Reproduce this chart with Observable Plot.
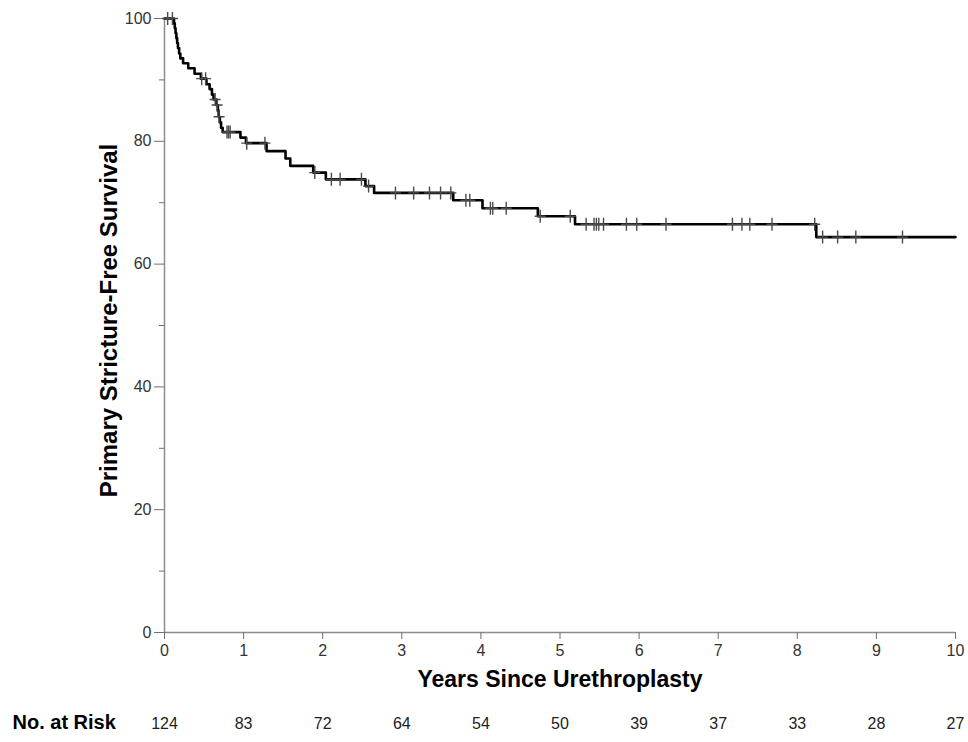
<!DOCTYPE html>
<html>
<head>
<meta charset="utf-8">
<script src="https://cdn.jsdelivr.net/npm/d3@7"></script>
<script src="https://cdn.jsdelivr.net/npm/@observablehq/plot@0.6"></script>
<style>
  body { margin: 0; background: #fff; }
  #chart svg { display: block; }
</style>
</head>
<body>
<div id="chart"></div>
<script>
// Kaplan-Meier step data (years, % survival)
const eventTimes = [0, 0.12, 0.13, 0.14, 0.15, 0.16, 0.17, 0.185, 0.20, 0.235, 0.30, 0.38, 0.46, 0.53, 0.57, 0.60, 0.62, 0.655, 0.675, 0.685, 0.70, 0.715, 0.735, 0.96, 1.03, 1.29, 1.53, 1.59, 1.88, 2.04, 2.54, 2.65, 3.65, 4.02, 4.72, 5.19, 8.24];
const survival   = [100, 99.2, 98.4, 97.6, 96.8, 96.0, 95.2, 94.3, 93.5, 92.7, 91.9, 91.0, 90.2, 89.3, 88.5, 87.6, 86.8, 85.9, 85.0, 84.0, 83.1, 82.2, 81.5, 80.6, 79.7, 78.4, 77.2, 76.0, 74.9, 73.8, 72.7, 71.6, 70.4, 69.1, 67.8, 66.5, 64.4];
const followUpEnd = 10;

// Censored observations (years)
const censorTimes = [0.04, 0.10, 0.47, 0.52, 0.64, 0.665, 0.69, 0.79, 0.81, 0.83, 1.04, 1.27, 1.90, 2.11, 2.22, 2.49, 2.58, 2.92, 3.15, 3.35, 3.49, 3.62, 3.81, 3.86, 4.12, 4.15, 4.32, 4.75, 5.13, 5.33, 5.43, 5.46, 5.49, 5.55, 5.84, 5.97, 6.34, 7.18, 7.30, 7.40, 7.68, 8.22, 8.32, 8.51, 8.74, 9.33];

// Axis ticks and number at risk
const xTicks = [0, 1, 2, 3, 4, 5, 6, 7, 8, 9, 10];
const atRisk = [124, 83, 72, 64, 54, 50, 39, 37, 33, 28, 27];
const yMajor = [0, 20, 40, 60, 80, 100];
const yMinor = [10, 30, 50, 70, 90];

const yTitle = "Primary Stricture-Free Survival";
const xTitle = "Years Since Urethroplasty";
const riskTitle = "No. at Risk";

// Build tables
const steps = eventTimes.map((t, i) => ({t, s: survival[i]}));
steps.push({t: followUpEnd, s: survival[survival.length - 1]});
function survivalAt(t) {
  let s = survival[0];
  for (let i = 0; i < eventTimes.length; i++) if (eventTimes[i] <= t) s = survival[i];
  return s;
}
const censors = censorTimes.map(t => ({t, s: survivalAt(t)}));
const riskRows = xTicks.map((t, i) => ({t, n: atRisk[i]}));

// thin "+" censor symbol
const thinPlus = {
  draw(ctx, size) {
    const r = Math.sqrt(size / Math.PI);
    ctx.moveTo(-r * 0.85, 0); ctx.lineTo(r * 0.85, 0);
    ctx.moveTo(0, -r); ctx.lineTo(0, r);
  }
};

const font = "'Liberation Sans', Arial, Helvetica, sans-serif";

const chart = Plot.plot({
  width: 968,
  height: 742,
  marginTop: 18,
  marginBottom: 110,
  marginLeft: 164,
  marginRight: 13,
  style: {fontFamily: font, background: "#fff", overflow: "visible"},
  x: {domain: [0, 10]},
  y: {domain: [0, 100]},
  marks: [
    // axis lines
    Plot.ruleX([0], {stroke: "#8c8c8c", strokeWidth: 1.5}),
    Plot.ruleY([0], {stroke: "#8c8c8c", strokeWidth: 1.5}),
    // axes
    Plot.axisX({ticks: xTicks, tickSize: 7, tickPadding: 5, fontSize: 16, stroke: "#6f6f6f", fill: "#333", label: null, tickFormat: d3.format("d")}),
    Plot.axisY({ticks: yMajor, tickSize: 10, tickPadding: 3, fontSize: 16, stroke: "#6f6f6f", fill: "#333", label: null, tickFormat: d3.format("d")}),
    Plot.axisY({ticks: yMinor, tickSize: 5, tickFormat: () => "", stroke: "#6f6f6f", label: null}),
    // KM curve
    Plot.line(steps, {x: "t", y: "s", curve: "step-after", stroke: "#000", strokeWidth: 2.6}),
    // censor marks
    Plot.dot(censors, {x: "t", y: "s", symbol: thinPlus, r: 6.5, stroke: "#4a4a4a", strokeWidth: 1.4, fill: "none"}),
    // titles
    Plot.text([yTitle], {frameAnchor: "left", textAnchor: "middle", rotate: -90, dx: -55, dy: -5, fontSize: 24, fontWeight: "bold", fill: "#000"}),
    Plot.text([xTitle], {frameAnchor: "bottom", textAnchor: "middle", dy: 54, fontSize: 23, fontWeight: "bold", fill: "#000"}),
    // number at risk
    Plot.text([riskTitle], {frameAnchor: "bottom-left", textAnchor: "start", dx: -152, dy: 96, fontSize: 20, fontWeight: "bold", fill: "#000"}),
    Plot.text(riskRows, {x: "t", text: "n", frameAnchor: "bottom", dy: 96, fontSize: 16, fill: "#222"})
  ]
});
document.getElementById("chart").appendChild(chart);
</script>
</body>
</html>
